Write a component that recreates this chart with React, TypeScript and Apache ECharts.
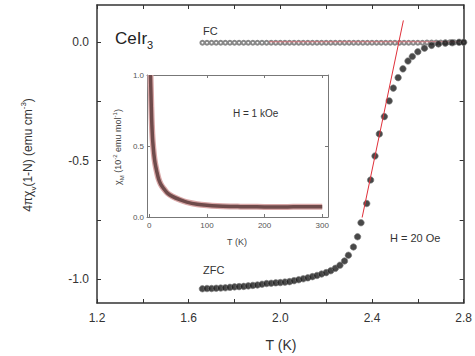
import React, { useEffect, useRef } from "react";
import * as echarts from "echarts";

// ZFC (filled black circles): temperature (K) and 4πχv(1-N)
const zfcT = [1.66, 1.68, 1.70, 1.72, 1.74, 1.76, 1.78, 1.80, 1.82, 1.84, 1.86, 1.88, 1.90, 1.92, 1.94, 1.96, 1.98, 2.00, 2.02, 2.04, 2.06, 2.08, 2.10, 2.12, 2.14, 2.16, 2.18, 2.20, 2.22, 2.24, 2.26, 2.28, 2.297, 2.319, 2.337, 2.352, 2.377, 2.394, 2.413, 2.432, 2.454, 2.475, 2.493, 2.514, 2.535, 2.557, 2.576, 2.60, 2.629, 2.66, 2.69, 2.72, 2.75, 2.78, 2.80];
const zfcV = [-1.040, -1.039, -1.039, -1.038, -1.037, -1.036, -1.034, -1.032, -1.031, -1.030, -1.028, -1.026, -1.024, -1.021, -1.018, -1.017, -1.015, -1.014, -1.012, -1.010, -1.006, -1.002, -0.998, -0.994, -0.989, -0.984, -0.978, -0.972, -0.964, -0.954, -0.941, -0.923, -0.899, -0.864, -0.821, -0.762, -0.681, -0.582, -0.481, -0.388, -0.315, -0.249, -0.195, -0.151, -0.114, -0.081, -0.062, -0.042, -0.027, -0.015, -0.009, -0.006, -0.004, -0.002, -0.002];

// FC (open circles)
const fcT = [1.66, 1.68, 1.70, 1.72, 1.74, 1.76, 1.78, 1.80, 1.82, 1.84, 1.86, 1.88, 1.90, 1.92, 1.94, 1.96, 1.98, 2.00, 2.02, 2.04, 2.06, 2.08, 2.10, 2.12, 2.14, 2.16, 2.18, 2.20, 2.22, 2.24, 2.26, 2.28, 2.30, 2.32, 2.34, 2.36, 2.38, 2.40, 2.42, 2.44, 2.46, 2.48, 2.50, 2.52, 2.54, 2.56, 2.58, 2.60, 2.62, 2.64, 2.66, 2.68, 2.70, 2.72, 2.74, 2.76, 2.78, 2.80];
const fcV = [-0.004, -0.004, -0.004, -0.004, -0.004, -0.004, -0.004, -0.004, -0.004, -0.004, -0.004, -0.004, -0.004, -0.004, -0.004, -0.004, -0.004, -0.004, -0.004, -0.004, -0.004, -0.004, -0.004, -0.004, -0.004, -0.004, -0.004, -0.004, -0.004, -0.004, -0.004, -0.004, -0.004, -0.004, -0.004, -0.004, -0.004, -0.004, -0.004, -0.004, -0.004, -0.004, -0.004, -0.004, -0.004, -0.004, -0.004, -0.004, -0.004, -0.003, -0.003, -0.003, -0.003, -0.002, -0.002, -0.002, -0.002, -0.002];

// Red guide lines
const fitSlopeT = [2.357, 2.537];
const fitSlopeV = [-0.74, 0.09];
const fitFlatT = [1.95, 2.8];
const fitFlatV = [0, 0];

// Inset: χM (10^-2 emu/mol) vs T (K), H = 1 kOe
const insetT = [2, 3, 4, 5, 6, 8, 10, 13, 16, 20, 25, 31, 40, 54, 65, 83, 100, 118, 140, 158, 180, 200, 220, 240, 260, 280, 300];
const insetChi = [1.0, 0.85, 0.70, 0.60, 0.53, 0.44, 0.38, 0.32, 0.27, 0.23, 0.20, 0.17, 0.145, 0.12, 0.105, 0.09, 0.082, 0.077, 0.074, 0.073, 0.072, 0.071, 0.071, 0.071, 0.072, 0.072, 0.073];

// Tick labels
const mainXLabels = [1.2, 1.6, 2.0, 2.4, 2.8];
const mainYLabels = [-1.0, -0.5, 0.0];
const mainYTicks = [-1.0, -0.75, -0.5, -0.25, 0.0];
const insetXLabels = [0, 100, 200, 300];
const insetYLabels = [0.0, 0.5, 1.0];

const FONT = "Liberation Sans, Arial, sans-serif";
const TXT = "#333";

const zip = (a: number[], b: number[]) => a.map((v, i) => [v, b[i]]);

export default function App() {
  const ref = useRef<HTMLDivElement>(null);
  useEffect(() => {
    if (!ref.current) return;
    const chart = echarts.init(ref.current, undefined, { renderer: "svg" });
    const axisLineMain = { show: true, onZero: false, lineStyle: { color: "#333", width: 1.5 } };
    const axisLineInset = { show: true, onZero: false, lineStyle: { color: "#777", width: 1 } };
    const mainXRange = { min: 1.2, max: 2.8 };
    const mainYRange = { min: -1.1, max: 0.155 };
    const insetXRange = { min: -4, max: 310 };
    const insetYRange = { min: 0, max: 1 };
    chart.setOption({
      animation: false,
      textStyle: { fontFamily: FONT },
      grid: [
        { left: 97, top: 5, width: 369, height: 298, show: false },
        { left: 147, top: 75, width: 181, height: 142, show: true, backgroundColor: "#fff", borderWidth: 0, z: 5 },
      ],
      xAxis: [
        {
          type: "value", gridIndex: 0, ...mainXRange, interval: 0.2,
          axisLine: axisLineMain, splitLine: { show: false },
          axisTick: { inside: true, length: 4, lineStyle: { color: "#333" } },
          axisLabel: { customValues: mainXLabels, formatter: (v: number) => v.toFixed(1), color: TXT, fontSize: 12, margin: 9, fontFamily: FONT },
        },
        {
          type: "value", gridIndex: 0, position: "top", ...mainXRange, interval: 0.2,
          axisLine: axisLineMain, splitLine: { show: false },
          axisTick: { inside: true, length: 4, lineStyle: { color: "#333" } },
          axisLabel: { show: false },
        },
        {
          type: "value", gridIndex: 1, ...insetXRange,
          axisLine: axisLineInset, splitLine: { show: false },
          axisTick: { inside: true, length: 3, customValues: insetXLabels, lineStyle: { color: "#777" } },
          axisLabel: { customValues: insetXLabels, color: "#555", fontSize: 8, margin: 4, fontFamily: FONT },
          z: 6,
        },
        {
          type: "value", gridIndex: 1, position: "top", ...insetXRange,
          axisLine: axisLineInset, splitLine: { show: false },
          axisTick: { inside: true, length: 3, customValues: insetXLabels, lineStyle: { color: "#777" } },
          axisLabel: { show: false },
          z: 6,
        },
      ],
      yAxis: [
        {
          type: "value", gridIndex: 0, ...mainYRange,
          axisLine: axisLineMain, splitLine: { show: false },
          axisTick: { inside: true, length: 4, customValues: mainYTicks, lineStyle: { color: "#333" } },
          axisLabel: { customValues: mainYLabels, formatter: (v: number) => v.toFixed(1), color: TXT, fontSize: 12, margin: 8, fontFamily: FONT },
        },
        {
          type: "value", gridIndex: 0, position: "right", ...mainYRange,
          axisLine: axisLineMain, splitLine: { show: false },
          axisTick: { inside: true, length: 4, customValues: mainYTicks, lineStyle: { color: "#333" } },
          axisLabel: { show: false },
        },
        {
          type: "value", gridIndex: 1, ...insetYRange,
          axisLine: axisLineInset, splitLine: { show: false },
          axisTick: { inside: true, length: 3, customValues: insetYLabels, lineStyle: { color: "#777" } },
          axisLabel: { customValues: insetYLabels, formatter: (v: number) => v.toFixed(1), color: "#555", fontSize: 8, margin: 3, fontFamily: FONT },
          z: 6,
        },
        {
          type: "value", gridIndex: 1, position: "right", ...insetYRange,
          axisLine: axisLineInset, splitLine: { show: false },
          axisTick: { inside: true, length: 3, customValues: insetYLabels, lineStyle: { color: "#777" } },
          axisLabel: { show: false },
          z: 6,
        },
      ],
      series: [
        {
          name: "FC", type: "line", xAxisIndex: 0, yAxisIndex: 0,
          data: zip(fcT, fcV), symbol: "emptyCircle", symbolSize: 4, showSymbol: true,
          lineStyle: { color: "#aaa", width: 0.6 },
          itemStyle: { color: "#888", borderWidth: 0.8 },
          z: 2,
        },
        {
          name: "flat", type: "line", xAxisIndex: 0, yAxisIndex: 0,
          data: zip(fitFlatT, fitFlatV), symbol: "none",
          lineStyle: { color: "#e8707a", width: 1, opacity: 0.8 }, z: 3,
        },
        {
          name: "ZFC", type: "scatter", xAxisIndex: 0, yAxisIndex: 0,
          data: zip(zfcT, zfcV), symbol: "circle", symbolSize: 6.5,
          itemStyle: { color: "#1a1a1a", borderColor: "#777", borderWidth: 0.8 },
          z: 4,
        },
        {
          name: "fit", type: "line", xAxisIndex: 0, yAxisIndex: 0,
          data: zip(fitSlopeT, fitSlopeV), symbol: "none",
          lineStyle: { color: "#e0303a", width: 1 }, z: 5,
        },
        {
          name: "insetHalo", type: "line", xAxisIndex: 2, yAxisIndex: 2,
          data: zip(insetT, insetChi), symbol: "none", smooth: 0.3,
          lineStyle: { color: "#d9a7a7", width: 6 }, z: 7,
        },
        {
          name: "inset", type: "line", xAxisIndex: 2, yAxisIndex: 2,
          data: zip(insetT, insetChi), symbol: "none", smooth: 0.3,
          lineStyle: { color: "#6f4b4b", width: 3.5 }, z: 8,
        },
      ],
      graphic: [
        {
          type: "text", x: 28, y: 155, rotation: Math.PI / 2,
          style: {
            text: "{n|4πχ}{s|v}{n|(1-N) (emu cm}{p|-3}{n|)}",
            align: "center", verticalAlign: "middle", fill: TXT, font: `12px ${FONT}`,
            rich: {
              n: { fontSize: 12, fontFamily: FONT, fill: TXT, lineHeight: 18, verticalAlign: "middle" },
              s: { fontSize: 8, fontFamily: FONT, fill: TXT, lineHeight: 18, verticalAlign: "bottom" },
              p: { fontSize: 8, fontFamily: FONT, fill: TXT, lineHeight: 18, verticalAlign: "top" },
            },
          },
        },
        { type: "text", x: 281, y: 345, style: { text: "T (K)", align: "center", verticalAlign: "middle", fill: TXT, font: `14px ${FONT}` } },
        {
          type: "text", x: 115, y: 38,
          style: {
            text: "{n|CeIr}{s|3}", align: "left", verticalAlign: "middle", fill: "#222",
            rich: {
              n: { fontSize: 17, fontFamily: FONT, fill: "#222", lineHeight: 24, verticalAlign: "middle" },
              s: { fontSize: 11, fontFamily: FONT, fill: "#222", lineHeight: 24, verticalAlign: "bottom" },
            },
          },
        },
        { type: "text", x: 203, y: 31, style: { text: "FC", align: "left", verticalAlign: "middle", fill: TXT, font: `11px ${FONT}` } },
        { type: "text", x: 203, y: 270, style: { text: "ZFC", align: "left", verticalAlign: "middle", fill: TXT, font: `11px ${FONT}` } },
        { type: "text", x: 390, y: 238, style: { text: "H = 20 Oe", align: "left", verticalAlign: "middle", fill: TXT, font: `11px ${FONT}` } },
        { type: "text", x: 233, y: 113, z: 20, style: { text: "H = 1 kOe", align: "left", verticalAlign: "middle", fill: TXT, font: `10px ${FONT}` } },
        {
          type: "text", x: 118, y: 147, rotation: Math.PI / 2, z: 20,
          style: {
            text: "{n|χ}{s|M}{n| (10}{p|-2}{n| emu mol}{p|-1}{n|)}",
            align: "center", verticalAlign: "middle", fill: "#444",
            rich: {
              n: { fontSize: 9, fontFamily: FONT, fill: "#444", lineHeight: 13, verticalAlign: "middle" },
              s: { fontSize: 6, fontFamily: FONT, fill: "#444", lineHeight: 13, verticalAlign: "bottom" },
              p: { fontSize: 6, fontFamily: FONT, fill: "#444", lineHeight: 13, verticalAlign: "top" },
            },
          },
        },
        { type: "text", x: 237, y: 242, z: 20, style: { text: "T (K)", align: "center", verticalAlign: "middle", fill: "#444", font: `9px ${FONT}` } },
      ],
    });
    return () => chart.dispose();
  }, []);
  return <div ref={ref} style={{ width: 475, height: 356, position: "absolute", left: 0, top: 0 }} />;
}
